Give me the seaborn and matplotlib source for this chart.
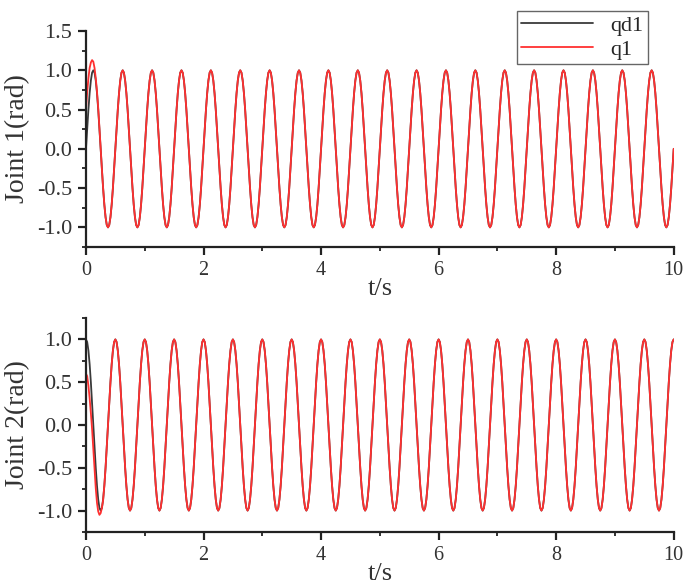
import numpy as np
import pandas as pd
import matplotlib
matplotlib.use("Agg")
import matplotlib.pyplot as plt
from matplotlib.ticker import MultipleLocator
import seaborn as sns

# one cycle of the desired trajectories (period 0.5 s, 24 samples per cycle)
qd1_cycle = [0.00, 0.26, 0.50, 0.71, 0.87, 0.97, 1.00, 0.97, 0.87, 0.71, 0.50, 0.26,
             0.00, -0.26, -0.50, -0.71, -0.87, -0.97, -1.00, -0.97, -0.87, -0.71, -0.50, -0.26]
qd2_cycle = [1.00, 0.97, 0.87, 0.71, 0.50, 0.26, 0.00, -0.26, -0.50, -0.71, -0.87, -0.97,
             -1.00, -0.97, -0.87, -0.71, -0.50, -0.26, 0.00, 0.26, 0.50, 0.71, 0.87, 0.97]
n_cycles = 20
# start-up transient of the actual joints (first samples, then they track qd)
q1_start = [0.50, 0.72, 0.90, 1.03, 1.10, 1.13, 1.11, 1.03, 0.90, 0.73, 0.52, 0.27, 0.01]
q2_start = [0.60, 0.57, 0.46, 0.31, 0.14, -0.05, -0.28, -0.52, -0.74, -0.91, -1.01,
            -1.05, -1.03, -0.97, -0.88]
t_end = 10
xticks = [0, 2, 4, 6, 8, 10]

qd1 = np.array(qd1_cycle * n_cycles + [qd1_cycle[0]])
qd2 = np.array(qd2_cycle * n_cycles + [qd2_cycle[0]])
t = np.linspace(0, t_end, len(qd1))
q1 = qd1.copy()
q1[:len(q1_start)] = q1_start
q2 = qd2.copy()
q2[:len(q2_start)] = q2_start

df1 = pd.DataFrame({"t": t, "qd1": qd1, "q1": q1})
df2 = pd.DataFrame({"t": t, "qd2": qd2, "q2": q2})

sns.set_style("ticks")
plt.rcParams["font.family"] = ["Liberation Serif", "DejaVu Serif"]

fig = plt.figure(figsize=(6.85, 5.86), dpi=100)
ax1 = fig.add_axes([0.1255, 0.5785, 0.858, 0.3685])
ax2 = fig.add_axes([0.1255, 0.0922, 0.858, 0.3651])

black = "#3a3a3a"
red = "#ff3030"

sns.lineplot(data=df1, x="t", y="qd1", ax=ax1, color=black, lw=1.3, label="qd1")
sns.lineplot(data=df1, x="t", y="q1", ax=ax1, color=red, lw=1.3, label="q1")
sns.lineplot(data=df2, x="t", y="qd2", ax=ax2, color=black, lw=1.3, legend=False)
sns.lineplot(data=df2, x="t", y="q2", ax=ax2, color=red, lw=1.3, legend=False)

for ax, ylab, ylim in [(ax1, "Joint 1(rad)", (-1.25, 1.5)), (ax2, "Joint 2(rad)", (-1.25, 1.25))]:
    ax.set_xlim(0, t_end)
    ax.set_ylim(*ylim)
    ax.set_xticks(xticks)
    ax.xaxis.set_minor_locator(MultipleLocator(1))
    ax.yaxis.set_major_locator(MultipleLocator(0.5))
    ax.yaxis.set_minor_locator(MultipleLocator(0.25))
    ax.yaxis.set_major_formatter(matplotlib.ticker.FormatStrFormatter("%.1f"))
    ax.set_ylabel(ylab, fontsize=20, color="#333333", labelpad=5)
    ax.set_xlabel("t/s", fontsize=19, color="#333333", labelpad=-1)
    for s in ["top", "right"]:
        ax.spines[s].set_visible(False)
    for s in ["left", "bottom"]:
        ax.spines[s].set_linewidth(1.6)
        ax.spines[s].set_color("#222222")
    ax.tick_params(which="major", length=6, width=1.6, labelsize=16, labelcolor="#333333",
                   color="#222222", pad=4)
    ax.tick_params(axis="x", which="major", labelsize=14.5)
    ax.tick_params(which="minor", length=3, width=1.3, color="#222222")

h, l = ax1.get_legend_handles_labels()
ax1.get_legend().remove()
leg = fig.legend(h, l, loc="upper right", bbox_to_anchor=(0.962, 1.0), fontsize=16,
                 frameon=True, fancybox=False, edgecolor="#666666", framealpha=1,
                 handlelength=3.2, borderpad=0.2, labelspacing=0.15, handletextpad=0.8)
leg.get_frame().set_linewidth(1.0)

fig.savefig("out.png", dpi=100)
